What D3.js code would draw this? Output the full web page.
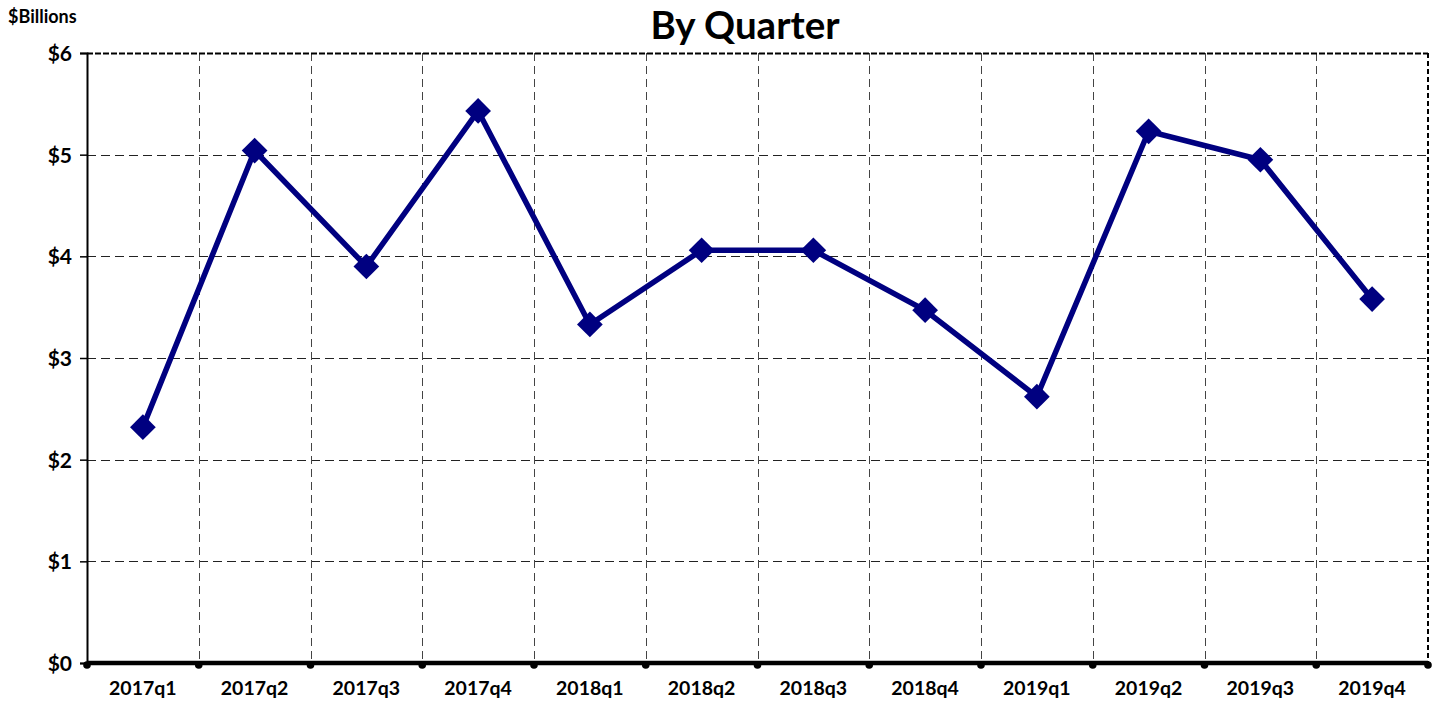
<!DOCTYPE html>
<html><head><meta charset="utf-8">
<script src="https://cdn.jsdelivr.net/npm/d3@7"></script>
<style>
body{margin:0;background:#fff;}
text{font-family:"Lato","Open Sans",sans-serif;font-weight:bold;fill:#000;}
</style></head>
<body><svg id="c" width="1434" height="704"></svg>
<script>
const categories = ["2017q1","2017q2","2017q3","2017q4","2018q1","2018q2","2018q3","2018q4","2019q1","2019q2","2019q3","2019q4"];
const values = [2.32,5.04,3.90,5.43,3.33,4.06,4.06,3.47,2.62,5.23,4.95,3.58];
const yTicks = [0,1,2,3,4,5,6];
const title = "By Quarter";
const unitLabel = "$Billions";

const svg = d3.select("#c");
const L=87, R=1428, T=53, B=663;
const x = d3.scaleBand().domain(categories).range([L,R]);
const y = d3.scaleLinear().domain([0,6]).range([B,T]);

// gridlines horizontal
svg.append("g").selectAll("line").data(yTicks.filter(d=>d>0 && d<6)).join("line")
  .attr("x1",L).attr("x2",R).attr("y1",d=>Math.round(y(d))+0.5).attr("y2",d=>Math.round(y(d))+0.5)
  .attr("stroke","#222").attr("stroke-width",1).attr("stroke-dasharray","9,5");
// gridlines vertical at band boundaries
const bounds = categories.map(c=>x(c)).slice(1);
svg.append("g").selectAll("line").data(bounds).join("line")
  .attr("x1",d=>Math.round(d)+0.5).attr("x2",d=>Math.round(d)+0.5).attr("y1",T).attr("y2",B)
  .attr("stroke","#444").attr("stroke-width",1).attr("stroke-dasharray","8,5");
// top and right borders
svg.append("line").attr("x1",L).attr("x2",R).attr("y1",T+0.5).attr("y2",T+0.5)
  .attr("stroke","#000").attr("stroke-width",2).attr("stroke-dasharray","6,2");
svg.append("line").attr("x1",R).attr("x2",R).attr("y1",T).attr("y2",B)
  .attr("stroke","#000").attr("stroke-width",2).attr("stroke-dasharray","5,3");

// y axis
const yAxis = svg.append("g").attr("transform",`translate(${L},0)`)
  .call(d3.axisLeft(y).tickValues(yTicks).tickSize(7).tickPadding(8).tickFormat(d=>"$"+d));
yAxis.select(".domain").attr("stroke","#000").attr("stroke-width",2);
yAxis.selectAll(".tick line").attr("stroke","#000").attr("stroke-width",1.5);
yAxis.selectAll(".tick text").style("font-size","21px").attr("dy","0.35em");

// x axis
const xAxis = svg.append("g").attr("transform",`translate(0,${B})`)
  .call(d3.axisBottom(x).tickSize(0).tickPadding(18));
xAxis.select(".domain").remove();
xAxis.selectAll(".tick text").style("font-size","19.5px");
svg.append("line").attr("x1",L).attr("x2",R).attr("y1",B).attr("y2",B)
  .attr("stroke","#000").attr("stroke-width",4.5);
// tick dots at boundaries
svg.append("g").selectAll("circle").data([L,...bounds,R]).join("circle")
  .attr("cx",d=>d).attr("cy",B+2).attr("r",3.8).attr("fill","#000");

// line
const cx = d=>x(d)+x.bandwidth()/2;
svg.append("path").datum(values)
  .attr("d",d3.line().x((d,i)=>cx(categories[i])).y(d=>y(d)))
  .attr("fill","none").attr("stroke","#000080").attr("stroke-width",5.5).attr("stroke-linejoin","miter");
svg.append("g").selectAll("path").data(values).join("path")
  .attr("d",d3.symbol(d3.symbolSquare,330)())
  .attr("transform",(d,i)=>`translate(${cx(categories[i])},${y(d)}) rotate(45)`)
  .attr("fill","#000080");

// title and unit
svg.append("text").attr("x",745).attr("y",39).attr("text-anchor","middle")
  .style("font-size","38.5px").text(title);
svg.append("text").attr("x",8).attr("y",23).style("font-size","18px").text(unitLabel);
</script></body></html>
